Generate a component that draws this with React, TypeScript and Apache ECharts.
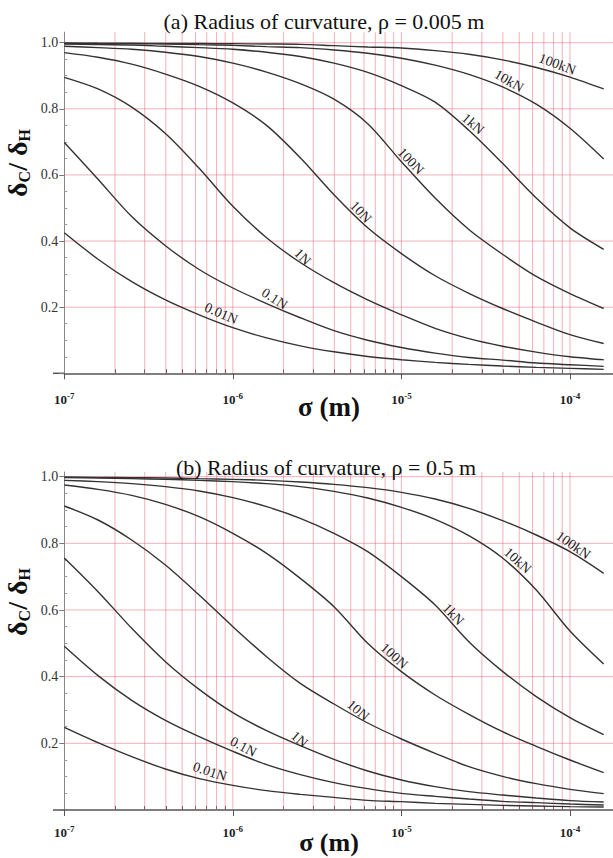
import React, { useEffect, useRef } from "react";
import * as echarts from "echarts";

// ---- data ----
const X_VALUES = [
  1e-7, 1.585e-7, 2.512e-7, 3.981e-7, 6.31e-7,
  1e-6, 1.585e-6, 2.512e-6, 3.981e-6, 6.31e-6,
  1e-5, 1.585e-5, 2.512e-5, 3.981e-5, 6.31e-5,
  1e-4, 1.585e-4,
];
const FORCES = ["0.01N", "0.1N", "1N", "10N", "100N", "1kN", "10kN", "100kN"];

// (a) rho = 0.005 m
const A_0_01N = [0.425, 0.345, 0.277, 0.222, 0.177, 0.138, 0.107, 0.083, 0.065, 0.051, 0.041, 0.033, 0.027, 0.022, 0.018, 0.015, 0.012];
const A_0_1N = [0.698, 0.587, 0.474, 0.386, 0.314, 0.258, 0.211, 0.168, 0.129, 0.1, 0.078, 0.061, 0.048, 0.04, 0.031, 0.026, 0.021];
const A_1N = [0.895, 0.86, 0.805, 0.725, 0.62, 0.505, 0.41, 0.335, 0.274, 0.222, 0.177, 0.136, 0.105, 0.082, 0.064, 0.05, 0.041];
const A_10N = [0.97, 0.956, 0.935, 0.905, 0.868, 0.818, 0.75, 0.652, 0.54, 0.44, 0.362, 0.295, 0.242, 0.196, 0.155, 0.117, 0.09];
const A_100N = [0.989, 0.985, 0.98, 0.971, 0.958, 0.938, 0.911, 0.876, 0.829, 0.755, 0.64, 0.53, 0.435, 0.36, 0.293, 0.241, 0.196];
const A_1kN = [0.996, 0.994, 0.993, 0.989, 0.985, 0.98, 0.971, 0.958, 0.938, 0.91, 0.87, 0.82, 0.735, 0.635, 0.53, 0.44, 0.375];
const A_10kN = [0.998, 0.9975, 0.997, 0.996, 0.994, 0.992, 0.988, 0.985, 0.978, 0.968, 0.953, 0.932, 0.904, 0.866, 0.814, 0.741, 0.648];
const A_100kN = [0.999, 0.9986, 0.9982, 0.9978, 0.9974, 0.997, 0.996, 0.995, 0.991, 0.987, 0.984, 0.976, 0.965, 0.948, 0.925, 0.896, 0.86];

// (b) rho = 0.5 m
const B_0_01N = [0.248, 0.202, 0.16, 0.123, 0.094, 0.074, 0.058, 0.047, 0.038, 0.029, 0.025, 0.02, 0.017, 0.014, 0.012, 0.01, 0.009];
const B_0_1N = [0.491, 0.403, 0.329, 0.269, 0.22, 0.176, 0.136, 0.106, 0.082, 0.064, 0.05, 0.041, 0.033, 0.026, 0.022, 0.018, 0.015];
const B_1N = [0.756, 0.655, 0.545, 0.445, 0.362, 0.292, 0.238, 0.193, 0.152, 0.117, 0.09, 0.07, 0.055, 0.045, 0.036, 0.028, 0.024];
const B_10N = [0.912, 0.87, 0.81, 0.735, 0.645, 0.55, 0.46, 0.38, 0.318, 0.261, 0.213, 0.17, 0.13, 0.101, 0.079, 0.062, 0.049];
const B_100N = [0.975, 0.962, 0.944, 0.917, 0.88, 0.83, 0.77, 0.695, 0.61, 0.5, 0.415, 0.345, 0.287, 0.235, 0.191, 0.15, 0.112];
const B_1kN = [0.989, 0.985, 0.979, 0.97, 0.957, 0.937, 0.91, 0.875, 0.83, 0.775, 0.7, 0.615, 0.505, 0.416, 0.34, 0.277, 0.226];
const B_10kN = [0.997, 0.996, 0.994, 0.992, 0.989, 0.985, 0.979, 0.97, 0.956, 0.936, 0.908, 0.872, 0.823, 0.756, 0.66, 0.537, 0.438];
const B_100kN = [0.999, 0.998, 0.997, 0.996, 0.994, 0.992, 0.989, 0.984, 0.977, 0.967, 0.953, 0.933, 0.905, 0.868, 0.825, 0.775, 0.71];

const CURVES_A = [A_0_01N, A_0_1N, A_1N, A_10N, A_100N, A_1kN, A_10kN, A_100kN];
const CURVES_B = [B_0_01N, B_0_1N, B_1N, B_10N, B_100N, B_1kN, B_10kN, B_100kN];

// curve label anchors on the curves [sigma, ratio, angle in degrees]
const LABELS_A = [
  [7.73e-7, 0.16, 23],
  [1.56e-6, 0.213, 33],
  [2.26e-6, 0.352, 45],
  [5e-6, 0.49, 47],
  [9.9e-6, 0.643, 46],
  [2.32e-5, 0.75, 41],
  [3.86e-5, 0.869, 30],
  [7.7e-5, 0.912, 20],
];
const LABELS_B = [
  [6.73e-7, 0.091, 18],
  [1.03e-6, 0.173, 28],
  [2.17e-6, 0.207, 40],
  [4.84e-6, 0.294, 40],
  [7.9e-6, 0.459, 42],
  [1.77e-5, 0.589, 47],
  [4.27e-5, 0.745, 42],
  [9.2e-5, 0.784, 35],
];

const TITLES = ["(a) Radius of curvature, \u03c1 = 0.005 m", "(b) Radius of curvature, \u03c1 = 0.5 m"];

const DECADES = [1e-7, 1e-6, 1e-5, 1e-4];
const MINOR_X = [
  2e-7, 3e-7, 4e-7, 5e-7, 6e-7, 7e-7, 8e-7, 9e-7,
  2e-6, 3e-6, 4e-6, 5e-6, 6e-6, 7e-6, 8e-6, 9e-6,
  2e-5, 3e-5, 4e-5, 5e-5, 6e-5, 7e-5, 8e-5, 9e-5,
];
const GRID_X = [...MINOR_X, 1e-6, 1e-5, 1e-4];
const Y_MAJOR = [0.2, 0.4, 0.6, 0.8, 1.0];
const Y_TICKS = [0, 0.2, 0.4, 0.6, 0.8, 1.0];
const Y_MINOR = [0.05, 0.1, 0.15, 0.25, 0.3, 0.35, 0.45, 0.5, 0.55, 0.65, 0.7, 0.75, 0.85, 0.9, 0.95];
const X_MIN = 1e-7;
const X_MAX = 1.8e-4;

const FONT = "Liberation Serif, serif";
const RED = "rgba(232, 100, 120, 0.5)";
const AXIS = "#555";

export default function App() {
  const ref = useRef<HTMLDivElement>(null);
  useEffect(() => {
    if (!ref.current) return;
    const chart = echarts.init(ref.current, undefined, { renderer: "svg" });

    const grids = [
      { left: 64.3, right: 0, top: 32.1, height: 341.2 },
      { left: 64.3, right: 0, top: 472, height: 338 },
    ];
    const yMax = [1.032, 1.014];
    const labelMargin = [18, 14];

    const xAxis: any[] = [];
    const yAxis: any[] = [];
    [0, 1].forEach((g) => {
      xAxis.push({
        type: "log",
        logBase: 10,
        gridIndex: g,
        position: "bottom",
        min: X_MIN,
        max: X_MAX,
        axisLine: { show: true, lineStyle: { color: AXIS, width: 1.5 } },
        axisTick: { show: true, customValues: DECADES, length: 6, lineStyle: { color: AXIS } },
        axisLabel: {
          customValues: DECADES,
          margin: labelMargin[g],
          formatter: (v: number) => `{b|10}{s|${Math.round(Math.log10(v))}}`,
          rich: {
            b: { fontFamily: FONT, fontWeight: "bold", fontSize: 13, color: "#222", lineHeight: 16 },
            s: { fontFamily: FONT, fontWeight: "bold", fontSize: 9, color: "#222", verticalAlign: "top", lineHeight: 16 },
          },
        },
        splitLine: { show: false },
      });
      xAxis.push({
        type: "log",
        logBase: 10,
        gridIndex: g,
        position: "bottom",
        min: X_MIN,
        max: X_MAX,
        axisLine: { show: false },
        axisTick: { show: true, inside: true, customValues: MINOR_X, length: 4, lineStyle: { color: AXIS } },
        axisLabel: { show: false },
        splitLine: { show: false },
      });
      yAxis.push({
        type: "value",
        gridIndex: g,
        position: "left",
        min: 0,
        max: yMax[g],
        axisLine: { show: true, lineStyle: { color: "#888", width: 1 } },
        axisTick: { show: true, customValues: Y_TICKS, length: 5, lineStyle: { color: "#777" } },
        axisLabel: {
          customValues: Y_MAJOR,
          margin: 6,
          formatter: (v: number) => v.toFixed(1),
          fontFamily: FONT,
          fontSize: 14,
          color: "#333",
        },
        splitLine: { show: false },
      });
      yAxis.push({
        type: "value",
        gridIndex: g,
        position: "left",
        min: 0,
        max: yMax[g],
        axisLine: { show: false },
        axisTick: { show: true, inside: true, customValues: Y_MINOR, length: 3, lineStyle: { color: "#999" } },
        axisLabel: { show: false },
        splitLine: { show: false },
      });
    });

    const series: any[] = [];
    // red grid lines drawn as series through the axes
    [0, 1].forEach((g) => {
      GRID_X.forEach((v) => {
        series.push({
          type: "line",
          xAxisIndex: g * 2,
          yAxisIndex: g * 2,
          data: [[v, 0], [v, yMax[g]]],
          symbol: "none",
          silent: true,
          lineStyle: { color: RED, width: 1 },
          z: 1,
        });
      });
      Y_MAJOR.forEach((v) => {
        series.push({
          type: "line",
          xAxisIndex: g * 2,
          yAxisIndex: g * 2,
          data: [[X_MIN, v], [X_MAX, v]],
          symbol: "none",
          silent: true,
          lineStyle: { color: RED, width: 1 },
          z: 1,
        });
      });
    });

    const LABEL_GAP = 10;
    [CURVES_A, CURVES_B].forEach((curves, g) => {
      const labels = g === 0 ? LABELS_A : LABELS_B;
      curves.forEach((vals, i) => {
        const [lx, ly, ang] = labels[i];
        const rad = (ang * Math.PI) / 180;
        series.push({
          type: "line",
          name: `${g}-${FORCES[i]}`,
          xAxisIndex: g * 2,
          yAxisIndex: g * 2,
          data: X_VALUES.map((x, k) => [x, vals[k]]),
          showSymbol: false,
          symbol: "none",
          smooth: 0.3,
          lineStyle: { color: "#333", width: 1.4 },
          z: 3,
          markPoint: {
            symbol: "circle",
            symbolSize: 0,
            silent: true,
            label: {
              show: true,
              position: "inside",
              formatter: FORCES[i],
              rotate: -ang,
              offset: [LABEL_GAP * Math.sin(rad), -LABEL_GAP * Math.cos(rad)],
              fontFamily: FONT,
              fontSize: 14,
              color: "#222",
            },
            data: [{ coord: [lx, ly], value: 0 }],
          },
        });
      });
    });

    const textStyle = (text: string, size: number, bold: boolean) => ({
      text,
      fontFamily: FONT,
      fontSize: size,
      fontWeight: bold ? "bold" : "normal",
      fill: "#111",
      align: "center",
      verticalAlign: "middle",
      textAlign: "center",
      textVerticalAlign: "middle",
    });
    const yTitle = (y: number) => ({
      type: "text",
      x: 17,
      y,
      rotation: Math.PI / 2,
      style: {
        text: "{d|\u03b4}{s|C}{d|/ \u03b4}{s|H}",
        align: "center",
        verticalAlign: "middle",
        textAlign: "center",
        textVerticalAlign: "middle",
        rich: {
          d: { fontFamily: FONT, fontWeight: "bold", fontSize: 28, fill: "#111", color: "#111", lineHeight: 30 },
          s: { fontFamily: FONT, fontWeight: "bold", fontSize: 16, fill: "#111", color: "#111", verticalAlign: "bottom", lineHeight: 30 },
        },
      },
    });

    chart.setOption({
      animation: false,
      backgroundColor: "#fff",
      grid: grids,
      xAxis,
      yAxis,
      series,
      graphic: [
        { type: "text", x: 324, y: 21.5, style: textStyle(TITLES[0], 22, false) },
        { type: "text", x: 326, y: 467, style: textStyle(TITLES[1], 22, false), z: 10 },
        { type: "text", x: 329, y: 407, style: textStyle("\u03c3 (m)", 27, true) },
        { type: "text", x: 329, y: 842, style: textStyle("\u03c3 (m)", 26, true) },
        { type: "line", shape: { x1: 53, y1: 373.3, x2: 64.3, y2: 373.3 }, style: { stroke: AXIS, lineWidth: 1.5 } },
        { type: "line", shape: { x1: 53, y1: 810, x2: 64.3, y2: 810 }, style: { stroke: AXIS, lineWidth: 1.5 } },
        yTitle(163),
        yTitle(602),
      ],
    });
    return () => chart.dispose();
  }, []);
  return <div ref={ref} style={{ position: "fixed", left: 0, top: 0, width: 613, height: 858, background: "#fff" }} />;
}
